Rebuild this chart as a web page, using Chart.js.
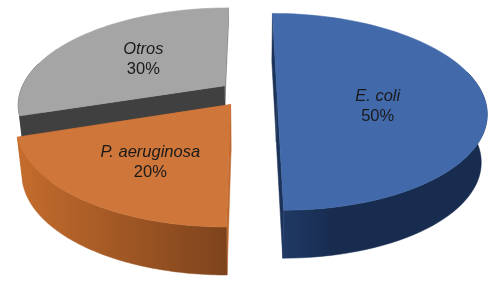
<!DOCTYPE html>
<html>
<head>
<meta charset="utf-8">
<style>
html,body{margin:0;padding:0;background:#fff}
canvas{display:block}
</style>
<script src="https://cdn.jsdelivr.net/npm/chart.js@4/dist/chart.umd.min.js"></script>
</head>
<body>
<canvas id="grafico" width="497" height="284"></canvas>
<script>
// data
const especies = ["E. coli","P. aeruginosa","Otros"];
const valores = [50,20,30];

// colors
const coresTopo = ["#426aab","#cf763a","#a5a5a5"];
const coresFace = ["#1c3359","#c0692f","#404040"];
const coresFace2 = ["#1c3359","#c0692f","#7f7f7f"];
const gradLateral = [
  [[0,"#213c69"],[0.28,"#182c50"],[1,"#182c50"]],
  [[0,"#c46c2d"],[1,"#7d431c"]],
  [[0,"#404040"],[1,"#404040"]]
];

// how far the second cut face goes down (the grey one is only a sliver)
const fundoFace2 = [1,1,0.3];

// label placement along the slice
const rotuloRaio = [0.49,0.58,0.535];
const rotuloDy = [13,7,1.5];

// fake 3D view: plane coords go through a perspective divide
const vista = {cx:248,cy:93.5,rx:205.5,ry:95,k:0.186,depth:48,baseScale:0.975};

function projeta(ang,r,o,base){
  const u = Math.cos(ang)*r+o[0], v = Math.sin(ang)*r+o[1];
  const w = 1-vista.k*v;
  const s = base ? vista.baseScale : 1;
  return [vista.cx+vista.rx*u/w*s, vista.cy+vista.ry*v/w+(base?vista.depth:0)];
}

function curva(ang0,ang1,o,base){
  const pts = [];
  for(let i=0;i<=80;i++){
    pts.push(projeta(ang0+(ang1-ang0)*i/80,1,o,base));
  }
  return pts;
}

function mistura(p,q,t){
  return [p[0]+(q[0]-p[0])*t, p[1]+(q[1]-p[1])*t];
}

function poligono(ctx,pts,fill){
  ctx.beginPath();
  pts.forEach((p,i)=> i ? ctx.lineTo(p[0],p[1]) : ctx.moveTo(p[0],p[1]));
  ctx.closePath();
  ctx.fillStyle = fill;
  ctx.fill();
  ctx.strokeStyle = fill;
  ctx.lineWidth = 0.5;
  ctx.stroke();
}

function deslocamento(a){
  const meio = (a.startAngle+a.endAngle)/2;
  const d = a.options.offset/vista.rx;
  return [Math.cos(meio)*d, Math.sin(meio)*d];
}

const pizza3d = {
  id:"pizza3d",
  beforeDatasetsDraw(chart){
    const ctx = chart.ctx;
    const arcos = chart.getDatasetMeta(0).data;
    // back to front
    [2,0,1].forEach(i=>{
      const a = arcos[i];
      const o = deslocamento(a);
      const apice = projeta(0,0,o,false);
      const apiceBase = projeta(0,0,o,true);
      const topo = curva(a.startAngle,a.endAngle,o,false);
      const base = curva(a.startAngle,a.endAngle,o,true);
      const t = fundoFace2[i];

      // cut faces
      poligono(ctx,[apice,topo[0],base[0],apiceBase],coresFace[i]);
      poligono(ctx,[apice,topo[80],mistura(topo[80],base[80],t),mistura(apice,apiceBase,t)],coresFace2[i]);

      // outer wall, only the part turned towards the viewer
      const frente = j => Math.sin(a.startAngle+(a.endAngle-a.startAngle)*j/80) > -0.25;
      const paredeTopo = topo.filter((p,j)=>frente(j));
      const paredeBase = base.filter((p,j)=>frente(j));
      const xs = topo.map(p=>p[0]);
      const g = ctx.createLinearGradient(Math.min(...xs),0,Math.max(...xs),0);
      gradLateral[i].forEach(s=>g.addColorStop(s[0],s[1]));
      poligono(ctx,paredeTopo.concat(paredeBase.reverse()),g);

      // top
      poligono(ctx,[apice].concat(topo),coresTopo[i]);
    });

    ctx.fillStyle = "#1a1a1a";
    ctx.textAlign = "center";
    ctx.textBaseline = "middle";
    arcos.forEach((a,i)=>{
      const meio = (a.startAngle+a.endAngle)/2;
      const p = projeta(meio,rotuloRaio[i],deslocamento(a),false);
      ctx.font = 'italic 16.5px "Liberation Sans"';
      ctx.fillText(especies[i],p[0],p[1]+rotuloDy[i]-10);
      ctx.font = '16.5px "Liberation Sans"';
      ctx.fillText(valores[i]+"%",p[0],p[1]+rotuloDy[i]+10);
    });
    return false;
  }
};

new Chart(document.getElementById("grafico"),{
  type:"pie",
  data:{
    labels:especies,
    datasets:[{
      data:valores,
      backgroundColor:coresTopo,
      borderWidth:0,
      offset:29
    }]
  },
  options:{
    responsive:false,
    animation:false,
    plugins:{legend:{display:false},tooltip:{enabled:false}}
  },
  plugins:[pizza3d]
});
</script>
</body>
</html>
